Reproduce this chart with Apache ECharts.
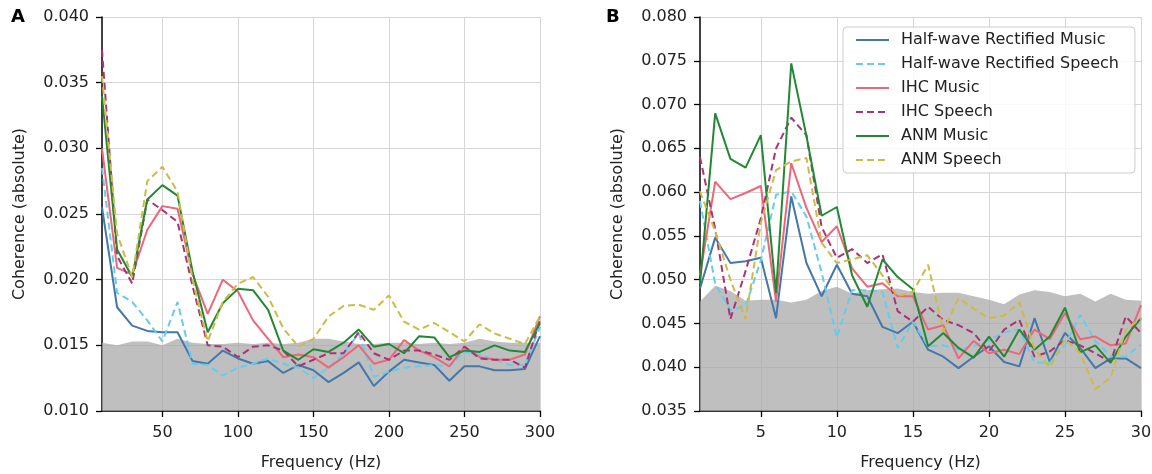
<!DOCTYPE html>
<html>
<head>
<meta charset="utf-8">
<title>Coherence</title>
<script src="https://cdn.jsdelivr.net/npm/echarts@6.0.0/dist/echarts.min.js"></script>
<style>
    html, body { margin: 0; padding: 0; background: #fff; }
    #chart { width: 1152px; height: 474px; }
</style>
</head>
<body>
<div id="chart"></div>
<script>
    // panel A: 10..300 Hz
    var freqA = [10, 20, 30, 40, 50, 60, 70, 80, 90, 100, 110, 120, 130, 140, 150,
        160, 170, 180, 190, 200, 210, 220, 230, 240, 250, 260, 270, 280, 290, 300];
    var ticksA = [50, 100, 150, 200, 250, 300];
    var hwrMusicA = [0.0255, 0.0179, 0.0165, 0.0161, 0.0160, 0.0160, 0.0138, 0.0136, 0.0146, 0.0140,
        0.0136, 0.0138, 0.0129, 0.0135, 0.0131, 0.0122, 0.0129, 0.0137, 0.0119, 0.0130,
        0.0139, 0.0137, 0.0135, 0.0123, 0.0134, 0.0134, 0.0131, 0.0131, 0.0132, 0.0157];
    var hwrSpeechA = [0.0285, 0.0190, 0.0183, 0.0169, 0.0153, 0.0183, 0.0136, 0.0135, 0.0127, 0.0133,
        0.0136, 0.0140, 0.0136, 0.0133, 0.0125, 0.0133, 0.0144, 0.0159, 0.0126, 0.0130,
        0.0133, 0.0134, 0.0135, 0.0134, 0.0145, 0.0143, 0.0139, 0.0135, 0.0135, 0.0164];
    var ihcMusicA = [0.0300, 0.0209, 0.0204, 0.0238, 0.0256, 0.0254, 0.0204, 0.0174, 0.0200, 0.0191,
        0.0169, 0.0155, 0.0141, 0.0143, 0.0141, 0.0133, 0.0141, 0.0150, 0.0136, 0.0139,
        0.0154, 0.0146, 0.0141, 0.0134, 0.0149, 0.0141, 0.0139, 0.0139, 0.0143, 0.0172];
    var ihcSpeechA = [0.0375, 0.0218, 0.0197, 0.0261, 0.0253, 0.0244, 0.0195, 0.0150, 0.0149, 0.0141,
        0.0149, 0.0150, 0.0146, 0.0134, 0.0139, 0.0144, 0.0144, 0.0160, 0.0144, 0.0139,
        0.0146, 0.0146, 0.0143, 0.0139, 0.0149, 0.0140, 0.0139, 0.0139, 0.0133, 0.0169];
    var anmMusicA = [0.0340, 0.0223, 0.0202, 0.0261, 0.0272, 0.0264, 0.0206, 0.0160, 0.0182, 0.0193,
        0.0192, 0.0177, 0.0146, 0.0139, 0.0147, 0.0145, 0.0152, 0.0162, 0.0149, 0.0151,
        0.0144, 0.0157, 0.0156, 0.0141, 0.0146, 0.0145, 0.0150, 0.0146, 0.0145, 0.0167];
    var anmSpeechA = [0.0355, 0.0235, 0.0202, 0.0275, 0.0286, 0.0267, 0.0200, 0.0153, 0.0183, 0.0197,
        0.0202, 0.0187, 0.0163, 0.0149, 0.0155, 0.0172, 0.0180, 0.0181, 0.0177, 0.0188,
        0.0168, 0.0162, 0.0167, 0.0160, 0.0153, 0.0166, 0.0159, 0.0155, 0.0151, 0.0172];
    var noiseA = [0.0152, 0.0150, 0.0153, 0.0153, 0.0150, 0.0155, 0.0152, 0.0151, 0.0151, 0.0152,
        0.0151, 0.0152, 0.0151, 0.0152, 0.0155, 0.0155, 0.0153, 0.0151, 0.0151, 0.0152,
        0.0152, 0.0151, 0.0152, 0.0151, 0.0152, 0.0155, 0.0153, 0.0152, 0.0152, 0.0152];

    // panel B: 1..30 Hz
    var freqB = [1, 2, 3, 4, 5, 6, 7, 8, 9, 10, 11, 12, 13, 14, 15,
        16, 17, 18, 19, 20, 21, 22, 23, 24, 25, 26, 27, 28, 29, 30];
    var ticksB = [5, 10, 15, 20, 25, 30];
    var hwrMusicB = [0.0490, 0.0548, 0.0519, 0.0521, 0.0525, 0.0456, 0.0595, 0.0519, 0.0481, 0.0517,
        0.0484, 0.0481, 0.0446, 0.0439, 0.0452, 0.0420, 0.0412, 0.0399, 0.0412, 0.0424,
        0.0406, 0.0401, 0.0456, 0.0406, 0.0439, 0.0422, 0.0399, 0.0410, 0.0410, 0.0399];
    var hwrSpeechB = [0.0590, 0.0495, 0.0465, 0.0470, 0.0522, 0.0597, 0.0601, 0.0572, 0.0508, 0.0434,
        0.0488, 0.0488, 0.0486, 0.0422, 0.0452, 0.0424, 0.0425, 0.0420, 0.0424, 0.0431,
        0.0440, 0.0443, 0.0405, 0.0405, 0.0425, 0.0460, 0.0430, 0.0413, 0.0412, 0.0426];
    var ihcMusicB = [0.0505, 0.0612, 0.0592, 0.0599, 0.0607, 0.0475, 0.0633, 0.0582, 0.0543, 0.0561,
        0.0513, 0.0492, 0.0496, 0.0481, 0.0481, 0.0443, 0.0448, 0.0410, 0.0430, 0.0416,
        0.0420, 0.0415, 0.0443, 0.0432, 0.0462, 0.0432, 0.0435, 0.0425, 0.0427, 0.0471];
    var ihcSpeechB = [0.0640, 0.0558, 0.0455, 0.0510, 0.0570, 0.0650, 0.0685, 0.0665, 0.0560, 0.0525,
        0.0535, 0.0519, 0.0529, 0.0464, 0.0452, 0.0469, 0.0454, 0.0448, 0.0439, 0.0418,
        0.0443, 0.0454, 0.0412, 0.0418, 0.0431, 0.0425, 0.0416, 0.0406, 0.0458, 0.0439];
    var anmMusicB = [0.0495, 0.0690, 0.0638, 0.0628, 0.0665, 0.0485, 0.0747, 0.0664, 0.0573, 0.0583,
        0.0505, 0.0469, 0.0523, 0.0503, 0.0489, 0.0424, 0.0439, 0.0422, 0.0411, 0.0435,
        0.0412, 0.0443, 0.0420, 0.0435, 0.0468, 0.0417, 0.0425, 0.0405, 0.0435, 0.0456];
    var anmSpeechB = [0.0601, 0.0555, 0.0500, 0.0455, 0.0565, 0.0625, 0.0635, 0.0639, 0.0542, 0.0519,
        0.0523, 0.0528, 0.0505, 0.0481, 0.0486, 0.0517, 0.0441, 0.0479, 0.0467, 0.0456,
        0.0459, 0.0474, 0.0421, 0.0400, 0.0432, 0.0416, 0.0375, 0.0388, 0.0443, 0.0456];
    var noiseB = [0.0475, 0.0493, 0.0487, 0.0476, 0.0477, 0.0477, 0.0474, 0.0477, 0.0487, 0.0492,
        0.0484, 0.0488, 0.0489, 0.0490, 0.0486, 0.0484, 0.0485, 0.0485, 0.0481, 0.0477,
        0.0472, 0.0483, 0.0488, 0.0486, 0.0481, 0.0484, 0.0475, 0.0484, 0.0477, 0.0476];

    var names = ['Half-wave Rectified Music', 'Half-wave Rectified Speech', 'IHC Music',
        'IHC Speech', 'ANM Music', 'ANM Speech'];
    var colors = ['#4477AA', '#66CCEE', '#EE6677', '#AA3377', '#228833', '#CCBB44'];
    var dashed = [false, true, false, true, false, true];

    function pairs(xs, ys) {
        return xs.map(function (x, i) { return [x, ys[i]]; });
    }

    var tickStyle = {show: true, inside: false, length: 6, lineStyle: {color: '#000', width: 1.3}};

    function xAxis(idx, min, max, ticks) {
        return {
            type: 'value', gridIndex: idx, min: min, max: max,
            name: 'Frequency (Hz)', nameLocation: 'middle', nameGap: 44,
            nameTextStyle: {fontSize: 16, color: '#222'},
            axisLine: {show: true, onZero: false, lineStyle: {color: '#000', width: 1.5}},
            axisTick: Object.assign({customValues: ticks}, tickStyle),
            axisLabel: {customValues: ticks, fontSize: 16, color: '#222', margin: 14},
            splitLine: {show: true, lineStyle: {color: '#d6d6d6', width: 1}}
        };
    }

    function yAxis(idx, min, max) {
        return {
            type: 'value', gridIndex: idx, min: min, max: max, interval: 0.005,
            name: 'Coherence (absolute)', nameLocation: 'middle', nameGap: 74,
            nameTextStyle: {fontSize: 16, color: '#222'},
            axisLine: {show: true, onZero: false, lineStyle: {color: '#000', width: 1.5}},
            axisTick: Object.assign({}, tickStyle),
            axisLabel: {fontSize: 16, color: '#222', margin: 13,
                formatter: function (v) { return v.toFixed(3); }},
            splitLine: {show: true, lineStyle: {color: '#d6d6d6', width: 1}}
        };
    }

    var series = [];
    function addPanel(idx, xs, noise, sets) {
        series.push({
            type: 'line', name: 'noise', xAxisIndex: idx, yAxisIndex: idx,
            data: pairs(xs, noise), symbol: 'none', silent: true, z: 1,
            lineStyle: {width: 0},
            areaStyle: {color: '#a6a6a6', opacity: 0.72, origin: 'start'}
        });
        sets.forEach(function (ys, i) {
            series.push({
                type: 'line', name: names[i], xAxisIndex: idx, yAxisIndex: idx,
                data: pairs(xs, ys), symbol: 'none', z: 3,
                lineStyle: {color: colors[i], width: 2, type: dashed[i] ? [7, 4] : 'solid'},
                itemStyle: {color: colors[i]}
            });
        });
    }
    addPanel(0, freqA, noiseA, [hwrMusicA, hwrSpeechA, ihcMusicA, ihcSpeechA, anmMusicA, anmSpeechA]);
    addPanel(1, freqB, noiseB, [hwrMusicB, hwrSpeechB, ihcMusicB, ihcSpeechB, anmMusicB, anmSpeechB]);

    var chart = echarts.init(document.getElementById('chart'));
    var option = {
        animation: false,
        textStyle: {fontFamily: 'DejaVu Sans'},
        title: [
            {text: 'A', left: 11, top: 8, padding: 0, textStyle: {fontSize: 18, fontWeight: 'bold', color: '#000'}},
            {text: 'B', left: 606, top: 8, padding: 0, textStyle: {fontSize: 18, fontWeight: 'bold', color: '#000'}}
        ],
        grid: [
            {left: 102, top: 17, width: 438, height: 394, outerBoundsMode: 'none'},
            {left: 700, top: 17, width: 441, height: 394, outerBoundsMode: 'none'}
        ],
        xAxis: [xAxis(0, 10, 300, ticksA), xAxis(1, 1, 30, ticksB)],
        yAxis: [yAxis(0, 0.010, 0.040), yAxis(1, 0.035, 0.080)],
        legend: {
            data: names, orient: 'vertical', left: 843, top: 27,
            padding: [5, 16, 5, 12], itemWidth: 33, itemHeight: 14, itemGap: 8,
            backgroundColor: 'rgba(255,255,255,0.85)', borderColor: '#cccccc',
            borderWidth: 1, borderRadius: 4,
            itemStyle: {opacity: 0},
            textStyle: {fontSize: 16, color: '#222', lineHeight: 16, padding: [0, 0, 0, 7]}
        },
        series: series
    };
    chart.setOption(option);
</script>
</body>
</html>
